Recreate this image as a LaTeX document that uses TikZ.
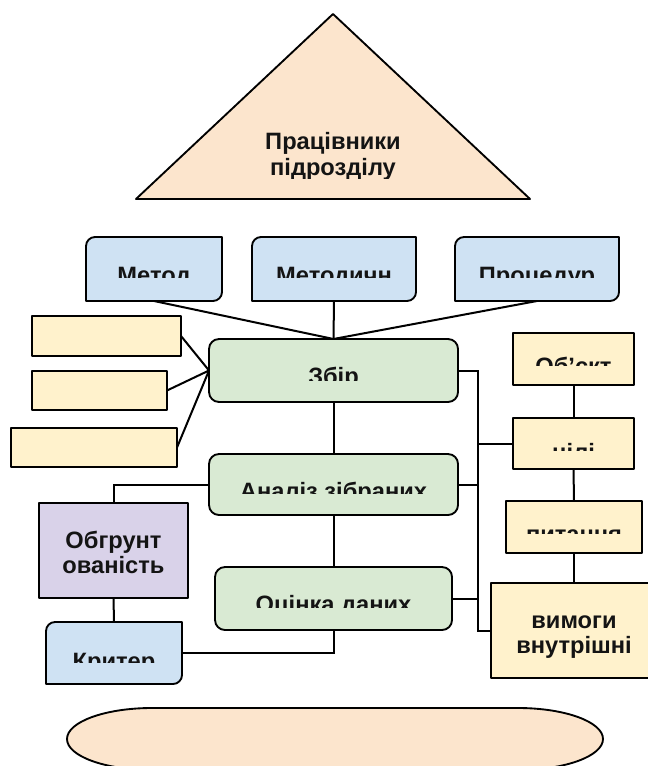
\documentclass[tikz,border=0pt]{standalone}
\usepackage{fontspec}
\setmainfont{Liberation Sans}
\usetikzlibrary{calc,fit}

\definecolor{boxblue}{HTML}{CFE2F3}
\definecolor{boxgreen}{HTML}{D9EAD3}
\definecolor{boxyellow}{HTML}{FFF2CC}
\definecolor{boxpurple}{HTML}{D9D2E9}
\definecolor{boxpeach}{HTML}{FCE5CD}

% Box with rounded top-left and bottom-right corners:
% #1 name, #2 fill, #3 left, #4 top, #5 right, #6 bottom (px, measured downward)
\newcommand{\tabbox}[6]{%
  \node[frame, fit={(#3,-#4) (#5,-#6)}] (#1) {};
  \draw[outline, fill=#2]
    ($(#1.north west)+(9,0)$) -- (#1.north east)
    -- ($(#1.south east)+(0,9)$) arc[start angle=0, end angle=-90, radius=9]
    -- (#1.south west)
    -- ($(#1.north west)+(0,-9)$) arc[start angle=180, end angle=90, radius=9]
    -- cycle;
}
% Plain box: #1 name, #2 extra style, #3 left, #4 top, #5 right, #6 bottom
\newcommand{\plainbox}[6]{%
  \node[frame, fit={(#3,-#4) (#5,-#6)}, outline, #2] (#1) {};
}

\begin{document}
\begin{tikzpicture}[x=0.75pt,y=0.75pt,
  frame/.style={inner sep=0pt, outer sep=0pt},
  outline/.style={draw=black, line width=1.4pt, line join=round},
  link/.style={draw=black, line width=1.5pt},
  greenbox/.style={fill=boxgreen, rounded corners=7.5pt},
  yellowbox/.style={fill=boxyellow},
  lbl/.style={font=\fontsize{17.75}{20}\selectfont\bfseries, text=black!92,
              inner sep=0pt, outer sep=0pt, anchor=base},
]
\clip (0,0) rectangle (648,-766);
\fill[white] (0,0) rectangle (648,-766);

% ---- top: staff triangle ----
\draw[outline, fill=boxpeach] (333,-14) -- (530,-199) -- (136,-199) -- cycle;
\begin{scope}
  \clip (136,-14) rectangle (530,-179);
  \node[lbl] (staffA) at (333,-150) {Працівники};
  \node[lbl] (staffB) at (333,-176) {підрозділу};
\end{scope}

\coordinate (bus) at (477.5,-500);

% ---- boxes ----
\tabbox{metod}{boxblue}{86}{237}{222}{301}
\tabbox{metodych}{boxblue}{252}{237}{416}{301}
\tabbox{protsedur}{boxblue}{455}{237}{619}{301}
\tabbox{kryter}{boxblue}{46}{622}{182}{684}

\plainbox{yA}{yellowbox}{32}{316}{181}{356}
\plainbox{yB}{yellowbox}{32}{371}{167}{410}
\plainbox{yC}{yellowbox}{11}{428}{177}{467}

\plainbox{zbir}{greenbox}{209}{339}{458}{402}
\plainbox{analiz}{greenbox}{209}{454}{458}{515}
\plainbox{otsinka}{greenbox}{215}{567}{452}{630}

\plainbox{obgr}{fill=boxpurple}{39}{503}{188}{598}

\plainbox{obiekt}{yellowbox}{513}{333}{634}{385}
\plainbox{tsili}{yellowbox}{513}{418}{634}{469}
\plainbox{pytannia}{yellowbox}{506}{501}{642}{553}
\plainbox{vymohy}{yellowbox}{491}{583}{662}{678}

% ---- links ----
\draw[link] (metod.south) -- (zbir.north);
\draw[link] (metodych.south) -- (zbir.north);
\draw[link] (protsedur.south) -- (zbir.north);
\draw[link] (yA.east) -- (zbir.west);
\draw[link] (yB.east) -- (zbir.west);
\draw[link] (yC.east) -- (zbir.west);
\draw[link] (zbir.south) -- (analiz.north);
\draw[link] (analiz.south) -- (otsinka.north);
\draw[link] (otsinka.south) |- (kryter.east);
\draw[link] (analiz.west) -| (obgr.north);
\draw[link] (obgr.south) -- (kryter.north);
\draw[link] (zbir.east) -| (bus) |- (vymohy.west);
\draw[link] (analiz.east) -- (analiz.east -| bus);
\draw[link] (otsinka.east) -- (otsinka.east -| bus);
\draw[link] (tsili.west) -- (tsili.west -| bus);
\draw[link] (obiekt.south) -- (tsili.north);
\draw[link] (tsili.south) -- (pytannia.north);
\draw[link] (pytannia.south) -- (pytannia.south |- vymohy.north);

% ---- labels (cut off by the box text area) ----
\begin{scope}\clip (86,-237) rectangle (222,-277);
  \node[lbl] (tMetod) at (154,-283.5) {Метод};\end{scope}
\begin{scope}\clip (252,-237) rectangle (416,-277);
  \node[lbl] (tMetodych) at (334,-283.5) {Методичн};\end{scope}
\begin{scope}\clip (455,-237) rectangle (619,-277);
  \node[lbl] (tProtsedur) at (537,-283.5) {Процедур};\end{scope}
\begin{scope}\clip (209,-339) rectangle (458,-380);
  \node[lbl] (tZbir) at (333.5,-384.5) {Збір};\end{scope}
\begin{scope}\clip (209,-454) rectangle (458,-493);
  \node[lbl] (tAnaliz) at (333.5,-499.5) {Аналіз зібраних};\end{scope}
\begin{scope}\clip (215,-567) rectangle (452,-607);
  \node[lbl] (tOtsinka) at (333.5,-612.5) {Оцінка даних};\end{scope}
\begin{scope}\clip (46,-622) rectangle (182,-662);
  \node[lbl] (tKryter) at (114,-669.5) {Критер};\end{scope}
\begin{scope}\clip (513,-333) rectangle (634,-365);
  \node[lbl] (tObiekt) at (573.5,-374.5) {Об’єкт};\end{scope}
\begin{scope}\clip (513,-418) rectangle (634,-450.5);
  \node[lbl] (tTsili) at (573.5,-460.5) {цілі};\end{scope}
\begin{scope}\clip (506,-501) rectangle (642,-533);
  \node[lbl] (tPytannia) at (574,-542) {питання};\end{scope}

% ---- full labels ----
\node[lbl] (tObgrA) at (113.5,-548) {Обгрунт};
\node[lbl] (tObgrB) at (113.5,-573) {ованість};
\node[lbl] (tVymA) at (574,-628) {вимоги};
\node[lbl] (tVymB) at (574,-653) {внутрішні};

% ---- bottom rounded band ----
\draw[outline, fill=boxpeach]
  (152,-708) -- (518,-708)
  arc[start angle=90, end angle=-90, x radius=85, y radius=31]
  -- (152,-770)
  arc[start angle=270, end angle=90, x radius=85, y radius=31]
  -- cycle;
\end{tikzpicture}
\end{document}
